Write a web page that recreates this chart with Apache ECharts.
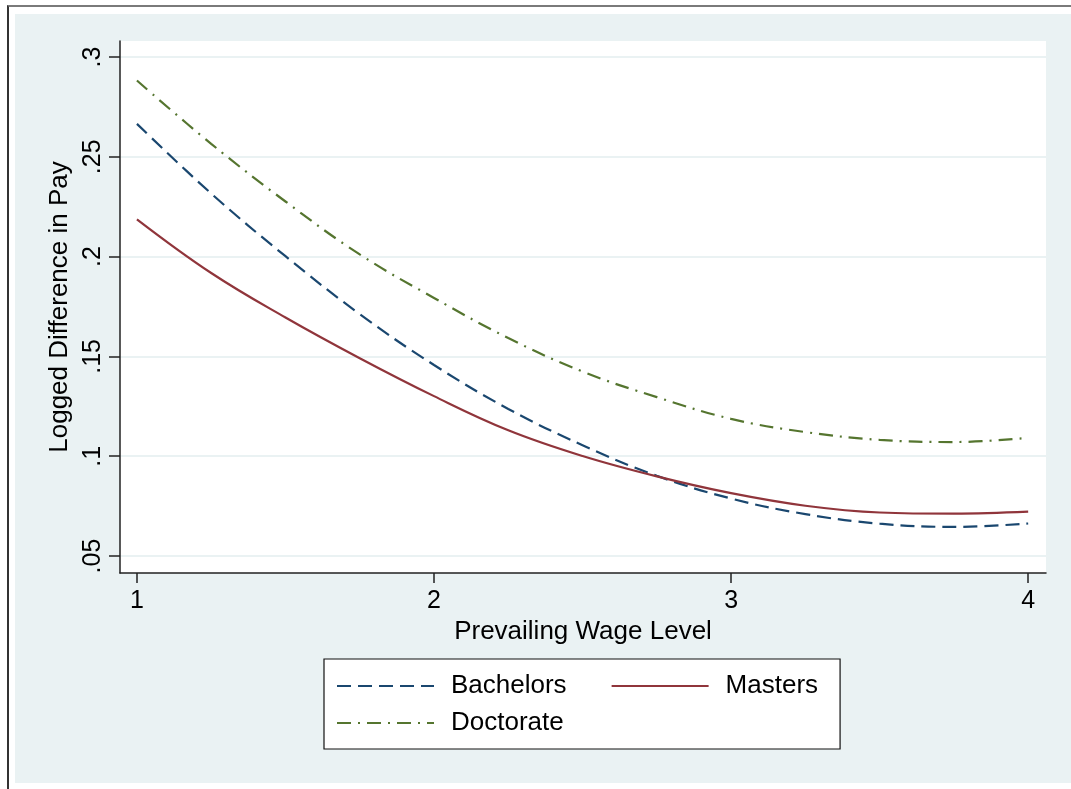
<!DOCTYPE html>
<html>
<head>
<meta charset="utf-8">
<script src="https://cdn.jsdelivr.net/npm/echarts@6/dist/echarts.min.js"></script>
<style>
  body { margin: 0; background: #fff; width: 1071px; height: 789px; overflow: hidden; }
  #frame { position: absolute; left: 7px; top: 5px; width: 1064px; height: 784px;
           border-top: 2px solid #7a7a7a; border-left: 2px solid #333; }
  #chart { position: absolute; left: 15px; top: 14px; width: 1056px; height: 769px; }
</style>
</head>
<body>
<div id="frame"></div>
<div id="chart"></div>
<script>
// prevailing wage level (x) and fitted logged pay difference per degree
var wageLevel = [1, 1.25, 1.5, 1.75, 2, 2.25, 2.5, 2.75, 3, 3.25, 3.5, 3.75, 4]
var bachelors = [0.2665, 0.2316, 0.2002, 0.1712, 0.1457, 0.1237, 0.1055, 0.0902, 0.0788, 0.0710, 0.0662, 0.0646, 0.0663]
var masters   = [0.2187, 0.1918, 0.1695, 0.1491, 0.1301, 0.1130, 0.1001, 0.0899, 0.0815, 0.0752, 0.0718, 0.0712, 0.0722]
var doctorate = [0.2882, 0.2565, 0.2276, 0.2011, 0.1793, 0.1592, 0.1424, 0.1296, 0.1187, 0.1121, 0.1082, 0.1071, 0.1092]
var xTicks = [1, 2, 3, 4]
var yTicks = [0.05, 0.1, 0.15, 0.2, 0.25, 0.3]

var bg = '#EAF2F3'
var font = 'Liberation Sans, Arial, Helvetica, sans-serif'

function pairs(ys) {
    return ys.map(function (v, i) { return [wageLevel[i], v] })
}

var myChart = echarts.init(document.getElementById('chart'))

var option = {
    backgroundColor: bg,
    animation: false,
    textStyle: { fontFamily: font, color: '#000' },
    grid: {
        left: 105, right: 25, top: 27, bottom: 210,
        show: true, backgroundColor: '#fff', borderWidth: 0
    },
    xAxis: {
        type: 'value', min: 0.943, max: 4.06,
        name: 'Prevailing Wage Level', nameLocation: 'middle', nameGap: 45,
        nameTextStyle: { fontSize: 26, color: '#000' },
        axisLine: { show: true, onZero: false, lineStyle: { color: '#222', width: 1.5 } },
        axisTick: { show: true, length: 10, customValues: xTicks, lineStyle: { color: '#222', width: 1.5 } },
        axisLabel: { fontSize: 25, color: '#000', margin: 16, customValues: xTicks },
        splitLine: { show: false }
    },
    yAxis: {
        type: 'value', min: 0.0415, max: 0.308,
        name: 'Logged Difference in Pay', nameLocation: 'middle', nameGap: 40,
        nameTextStyle: { fontSize: 26, color: '#000' },
        axisLine: { show: true, lineStyle: { color: '#222', width: 1.5 } },
        axisTick: { show: true, length: 11, customValues: yTicks, lineStyle: { color: '#222', width: 1.5 } },
        axisLabel: {
            fontSize: 25, color: '#000', margin: 14, rotate: 90, customValues: yTicks,
            formatter: function (v) { return String(+v.toFixed(2)).replace(/^0\./, '.') }
        },
        splitLine: { show: true, lineStyle: { color: bg, width: 2 } }
    },
    legend: [{
        data: ['Bachelors', 'Masters'],
        left: 309, top: 645,
        orient: 'horizontal',
        itemWidth: 97, itemHeight: 14, itemGap: 44,
        padding: [14, 22, 50, 12],
        backgroundColor: '#fff', borderColor: '#111', borderWidth: 1.2,
        itemStyle: { opacity: 0 },
        textStyle: { fontSize: 26, color: '#000', padding: [0, 0, 0, 12] }
    }, {
        data: ['Doctorate'],
        left: 309, top: 696, z: 10,
        itemWidth: 97, itemHeight: 14,
        padding: [0, 0, 0, 12],
        itemStyle: { opacity: 0 },
        textStyle: { fontSize: 26, color: '#000', padding: [0, 0, 0, 12] }
    }],
    series: [
        {
            name: 'Bachelors', type: 'line', data: pairs(bachelors),
            smooth: 0.4, symbol: 'none',
            lineStyle: { color: '#1A476F', width: 2.2, type: [14, 7] },
            itemStyle: { color: '#1A476F' }
        },
        {
            name: 'Masters', type: 'line', data: pairs(masters),
            smooth: 0.4, symbol: 'none',
            lineStyle: { color: '#90353B', width: 2.2, type: 'solid' },
            itemStyle: { color: '#90353B' }
        },
        {
            name: 'Doctorate', type: 'line', data: pairs(doctorate),
            smooth: 0.4, symbol: 'none',
            lineStyle: { color: '#55752F', width: 2.2, type: [14, 7, 2, 7] },
            itemStyle: { color: '#55752F' }
        }
    ]
}

myChart.setOption(option, true)
</script>
</body>
</html>
